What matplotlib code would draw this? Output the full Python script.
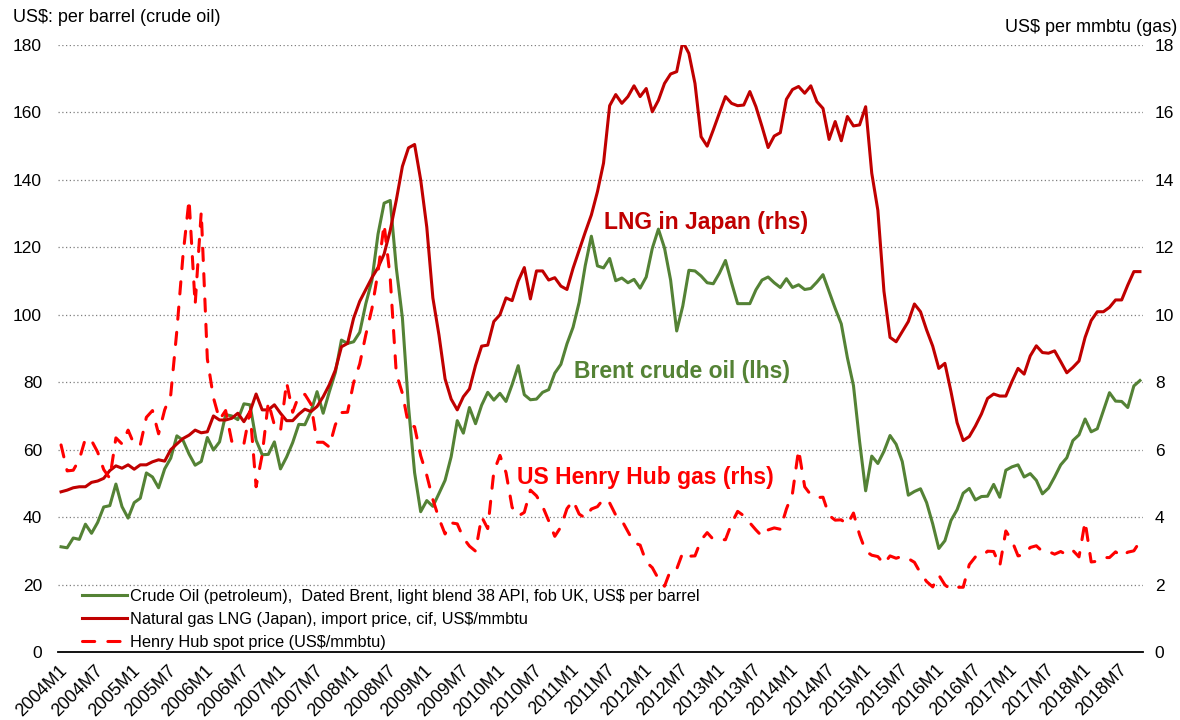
import matplotlib
matplotlib.use('Agg')
import matplotlib.pyplot as plt
import matplotlib.transforms as mtransforms

plt.rcParams['font.family'] = ['Liberation Sans', 'DejaVu Sans']

# monthly data, 2004M1 .. 2018M10
brent = [
    31.2, 30.9, 33.8, 33.4, 37.9, 35.2, 38.4, 43.0, 43.4, 49.8, 43.1, 39.7,
    44.3, 45.6, 53.1, 51.9, 48.7, 54.3, 57.5, 64.1, 62.8, 58.7, 55.4, 56.5,
    63.6, 59.9, 62.3, 70.4, 70.0, 68.9, 73.6, 73.3, 62.8, 58.5, 58.6, 62.3,
    54.3, 57.8, 62.1, 67.5, 67.4, 71.3, 77.2, 70.8, 77.1, 82.9, 92.5, 91.5,
    92.0, 94.8, 103.3, 110.2, 123.9, 133.1, 133.9, 113.9, 99.1, 72.8, 53.2, 41.6,
    44.9, 43.2, 47.0, 50.9, 57.9, 68.6, 64.9, 72.5, 67.7, 73.2, 77.0, 74.7,
    76.7, 74.3, 79.3, 84.9, 76.3, 74.8, 75.0, 77.0, 77.8, 82.7, 85.3, 91.4,
    96.3, 103.7, 114.6, 123.3, 114.5, 113.9, 116.7, 110.1, 110.9, 109.5, 110.5, 107.9,
    111.2, 119.7, 125.4, 119.8, 110.3, 95.2, 102.6, 113.2, 113.0, 111.5, 109.5, 109.2,
    112.3, 116.1, 109.5, 103.3, 103.3, 103.3, 107.4, 110.3, 111.2, 109.5, 108.1, 110.7,
    108.1, 108.9, 107.5, 107.8, 109.7, 111.9, 106.9, 101.9, 97.3, 87.3, 79.0, 62.5,
    47.8, 58.1, 55.9, 59.5, 64.2, 61.6, 56.5, 46.5, 47.6, 48.4, 44.3, 38.0,
    30.7, 33.0, 39.0, 42.2, 47.1, 48.5, 45.1, 46.1, 46.2, 49.7, 45.9, 53.9,
    54.9, 55.5, 51.9, 52.9, 50.9, 46.9, 48.6, 51.9, 55.5, 57.6, 62.7, 64.4,
    69.1, 65.3, 66.2, 71.6, 76.9, 74.4, 74.3, 72.5, 78.9, 80.5,
]

lng_japan = [
    4.75, 4.80, 4.87, 4.90, 4.90, 5.03, 5.07, 5.15, 5.38, 5.52, 5.45, 5.55,
    5.42, 5.55, 5.55, 5.64, 5.70, 5.66, 6.00, 6.17, 6.33, 6.43, 6.58, 6.50,
    6.53, 7.00, 6.88, 6.88, 6.93, 7.08, 6.83, 7.13, 7.65, 7.18, 7.18, 7.33,
    7.08, 6.86, 6.86, 7.05, 7.20, 7.13, 7.28, 7.57, 7.92, 8.36, 9.05, 9.15,
    9.90, 10.40, 10.75, 11.10, 11.40, 11.80, 12.50, 13.40, 14.40, 14.95, 15.05, 14.00,
    12.60, 10.50, 9.40, 8.10, 7.50, 7.18, 7.57, 7.80, 8.50, 9.07, 9.10, 9.80,
    10.00, 10.50, 10.42, 11.00, 11.40, 10.47, 11.30, 11.30, 11.03, 11.10, 10.85, 10.75,
    11.38, 11.92, 12.45, 12.96, 13.65, 14.50, 16.20, 16.53, 16.27, 16.47, 16.79, 16.47,
    16.71, 16.02, 16.36, 16.86, 17.14, 17.21, 18.10, 17.75, 16.86, 15.28, 15.00, 15.48,
    15.98, 16.47, 16.27, 16.20, 16.22, 16.62, 16.17, 15.58, 14.96, 15.30, 15.40, 16.39,
    16.68, 16.77, 16.57, 16.79, 16.32, 16.12, 15.20, 15.73, 15.16, 15.88, 15.60, 15.63,
    16.17, 14.20, 13.10, 10.70, 9.33, 9.20, 9.50, 9.80, 10.32, 10.09, 9.55, 9.07,
    8.41, 8.56, 7.72, 6.80, 6.27, 6.39, 6.70, 7.06, 7.52, 7.65, 7.59, 7.59,
    8.02, 8.41, 8.24, 8.78, 9.08, 8.88, 8.86, 8.93, 8.61, 8.28, 8.44, 8.63,
    9.33, 9.83, 10.09, 10.09, 10.22, 10.44, 10.44, 10.88, 11.28, 11.28,
]

henry_hub = [
    6.14, 5.37, 5.39, 5.71, 6.33, 6.27, 5.93, 5.41, 5.15, 6.35, 6.17, 6.58,
    6.15, 6.14, 6.96, 7.16, 6.47, 7.18, 7.63, 9.53, 11.75, 13.42, 10.30, 13.05,
    8.69, 7.54, 6.89, 7.16, 6.25, 6.21, 6.17, 7.14, 4.90, 5.85, 7.41, 6.73,
    6.55, 8.00, 7.11, 7.60, 7.64, 7.35, 6.22, 6.22, 6.08, 6.74, 7.10, 7.11,
    7.99, 8.54, 9.41, 10.18, 11.27, 12.69, 11.09, 8.26, 7.67, 6.74, 6.68, 5.82,
    5.24, 4.52, 3.96, 3.50, 3.83, 3.80, 3.38, 3.14, 2.99, 4.01, 3.66, 5.35,
    5.83, 5.32, 4.29, 4.03, 4.14, 4.80, 4.63, 4.32, 3.89, 3.43, 3.71, 4.25,
    4.49, 4.09, 3.97, 4.24, 4.31, 4.54, 4.42, 4.06, 3.90, 3.57, 3.24, 3.17,
    2.67, 2.50, 2.17, 1.95, 2.43, 2.46, 2.95, 2.84, 2.85, 3.32, 3.54, 3.34,
    3.33, 3.33, 3.81, 4.17, 4.04, 3.83, 3.62, 3.43, 3.62, 3.68, 3.64, 4.24,
    4.71, 6.00, 4.90, 4.66, 4.58, 4.59, 4.05, 3.91, 3.92, 3.78, 4.12, 3.48,
    2.99, 2.87, 2.83, 2.61, 2.85, 2.78, 2.84, 2.77, 2.66, 2.34, 2.09, 1.93,
    2.28, 1.99, 1.85, 1.92, 1.92, 2.59, 2.82, 2.82, 2.99, 2.98, 2.55, 3.59,
    3.30, 2.85, 2.88, 3.10, 3.15, 2.98, 2.98, 2.90, 2.98, 2.88, 3.01, 2.82,
    3.87, 2.67, 2.69, 2.80, 2.80, 2.97, 2.83, 2.96, 3.00, 3.28,
]

months = list(range(len(brent)))
tick_pos = months[::6]
tick_labels = [f'{2004 + m // 12}M{m % 12 + 1}' for m in tick_pos]

labels = [
    'Crude Oil (petroleum),  Dated Brent, light blend 38 API, fob UK, US$ per barrel',
    'Natural gas LNG (Japan), import price, cif, US$/mmbtu',
    'Henry Hub spot price (US$/mmbtu)',
]

GREEN = '#548235'
DARKRED = '#C00000'
RED = '#FF0000'

fig = plt.figure(figsize=(11.8, 7.2), dpi=100)
ax = fig.add_axes([58 / 1180, 1 - 652 / 720, 1085 / 1180, 607 / 720])
ax2 = ax.twinx()

ax.set_xlim(-0.5, len(brent) - 0.5)
ax.set_ylim(0, 180)
ax2.set_ylim(0, 18)
ax.set_yticks(range(0, 181, 20))
ax2.set_yticks(range(0, 19, 2))

for a in (ax, ax2):
    for side in ('top', 'left', 'right', 'bottom'):
        a.spines[side].set_visible(False)
ax.spines['bottom'].set_visible(True)
ax.spines['bottom'].set_linewidth(1.3)
ax.spines['bottom'].set_color('black')

ax.grid(axis='y', color='#7f7f7f', linestyle=(0, (1, 2)), linewidth=0.9)
ax.set_axisbelow(True)

l1, = ax.plot(months, brent, color=GREEN, lw=2.2, solid_joinstyle='round')
l2, = ax2.plot(months, lng_japan, color=DARKRED, lw=2.2, solid_joinstyle='round')
l3, = ax2.plot(months, henry_hub, color=RED, lw=2.2,
               linestyle=(0, (4, 4.3)), dash_capstyle='round')

ax.set_xticks(tick_pos)
ax.set_xticklabels(tick_labels, rotation=45, ha='right', va='top',
                   rotation_mode='anchor', fontsize=12.8)
ax.tick_params(axis='x', length=0, pad=7)
ax.tick_params(axis='y', length=0, pad=11.5, labelsize=12.5)
ax2.tick_params(axis='y', length=0, pad=8.5, labelsize=12.5)

# nudge the slanted labels a little left, like the original
shift = mtransforms.ScaledTranslation(-3 / 100, 0, fig.dpi_scale_trans)
for lab in ax.get_xticklabels():
    lab.set_transform(lab.get_transform() + shift)

leg = ax.legend([l1, l2, l3], labels, loc='upper left',
                bbox_to_anchor=(0.022, 0.104), frameon=False,
                fontsize=11.8, handlelength=2.75, handletextpad=0.2,
                labelspacing=0.48, borderpad=0, borderaxespad=0)

ax.text(105.9, 127.5, 'LNG in Japan (rhs)', color=DARKRED, fontsize=16.5,
        fontweight='bold', ha='center', va='center')
ax.text(101.9, 83.3, 'Brent crude oil (lhs)', color=GREEN, fontsize=16.5,
        fontweight='bold', ha='center', va='center')
ax.text(95.8, 51.6, 'US Henry Hub gas (rhs)', color=RED, fontsize=16.5,
        fontweight='bold', ha='center', va='center')

fig.text(13 / 1180, 1 - 18 / 720, 'US$: per barrel (crude oil)',
         ha='left', va='center', fontsize=13)
fig.text(1177 / 1180, 1 - 27 / 720, 'US$ per mmbtu (gas)',
         ha='right', va='center', fontsize=13)

fig.savefig('out.png', dpi=100)
